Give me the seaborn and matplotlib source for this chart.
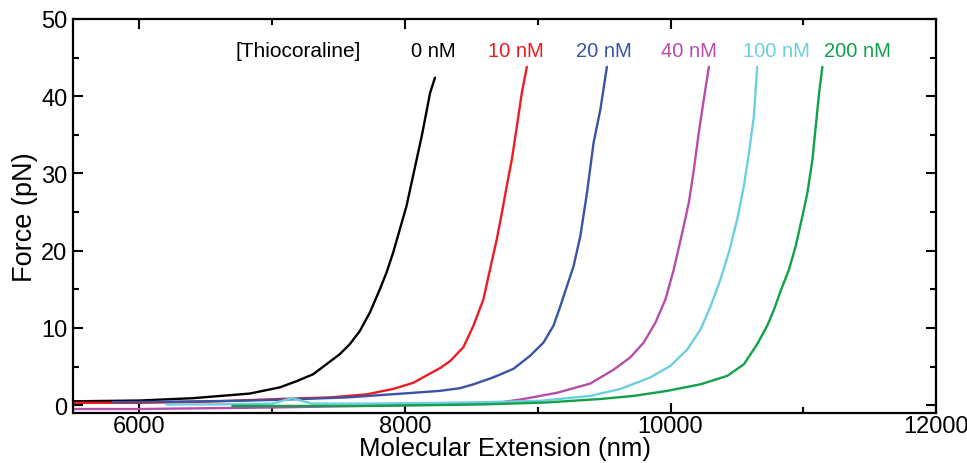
import numpy as np
import pandas as pd
import matplotlib.pyplot as plt
import seaborn as sns
from matplotlib.ticker import MultipleLocator

# values (extension in nm, force in pN)
ext_0 = [5500, 6000, 6400, 6830, 7057, 7183, 7308, 7409, 7509, 7585, 7660, 7736, 7811, 7862,
         7912, 7962, 8012, 8050, 8088, 8126, 8151, 8189, 8226]
force_0 = [0.5, 0.6, 0.9, 1.5, 2.3, 3.1, 4.0, 5.3, 6.6, 7.9, 9.6, 12.0, 15.0, 17.2,
           19.8, 22.8, 25.8, 28.8, 31.8, 34.8, 37.0, 40.4, 42.4]

ext_10 = [5500, 6000, 6500, 7057, 7434, 7711, 7912, 8063, 8264, 8340, 8440, 8516, 8591, 8641,
          8692, 8730, 8767, 8805, 8843, 8880, 8918]
force_10 = [0.3, 0.3, 0.45, 0.8, 1.0, 1.4, 2.1, 2.9, 4.8, 5.7, 7.5, 10.3, 13.7, 17.6,
            21.5, 24.9, 28.4, 31.8, 36.1, 40.4, 43.8]

ext_20 = [5800, 6200, 6700, 7057, 7560, 8063, 8264, 8415, 8516, 8666, 8817, 8943, 9043, 9119,
          9170, 9220, 9270, 9321, 9371, 9421, 9472, 9521]
force_20 = [0.4, 0.45, 0.55, 0.7, 1.0, 1.6, 1.85, 2.2, 2.7, 3.6, 4.7, 6.4, 8.1, 10.3,
            12.8, 15.4, 18.0, 21.9, 27.5, 34.0, 38.3, 43.8]

ext_40 = [5500, 6000, 6500, 7000, 7500, 8000, 8400, 8717, 8893, 9145, 9396, 9572, 9698, 9798,
          9887, 9962, 10025, 10088, 10138, 10176, 10213, 10251, 10289]
force_40 = [-0.5, -0.5, -0.4, -0.3, -0.15, 0.0, 0.15, 0.35, 0.8, 1.6, 2.8, 4.6, 6.2, 8.1,
            10.7, 13.7, 17.6, 22.3, 26.2, 30.5, 35.3, 39.6, 43.8]

ext_100 = [6200, 6600, 7000, 7150, 7300, 7700, 8300, 8641, 9019, 9396, 9623, 9849, 10000,
           10126, 10226, 10302, 10377, 10440, 10503, 10553, 10591, 10628, 10653]
force_100 = [0.1, 0.1, 0.2, 0.9, 0.2, 0.2, 0.3, 0.4, 0.56, 1.2, 2.1, 3.6, 5.1,
             7.2, 9.8, 12.8, 16.3, 19.8, 24.1, 28.4, 32.7, 37.4, 43.8]

ext_200 = [6700, 7200, 7700, 8200, 8600, 9069, 9472, 9723, 9975, 10226, 10428, 10553, 10653,
           10729, 10780, 10830, 10893, 10943, 10994, 11031, 11069, 11094, 11119, 11144]
force_200 = [-0.1, -0.1, -0.1, 0.0, 0.1, 0.35, 0.8, 1.2, 1.85, 2.7, 3.8, 5.3, 7.9,
             10.3, 12.4, 14.8, 17.6, 20.6, 24.5, 27.5, 31.8, 36.1, 40.4, 43.8]

conc_labels = ["0 nM", "10 nM", "20 nM", "40 nM", "100 nM", "200 nM"]
colors = ["#000000", "#ED1C24", "#3A53A4", "#B64DA8", "#6CCFDF", "#12A14B"]

traces = [(ext_0, force_0), (ext_10, force_10), (ext_20, force_20),
          (ext_40, force_40), (ext_100, force_100), (ext_200, force_200)]

frames = []
for lab, (x, y) in zip(conc_labels, traces):
    frames.append(pd.DataFrame({"ext": x, "force": y, "conc": lab}))
df = pd.concat(frames, ignore_index=True)

sns.set_style("ticks")
plt.rcParams['font.family'] = ['Liberation Sans', 'DejaVu Sans']
plt.rcParams.update({'text.color': 'black', 'axes.labelcolor': 'black',
                     'axes.edgecolor': 'black', 'xtick.color': 'black',
                     'ytick.color': 'black'})

fig = plt.figure(figsize=(9.67, 4.64), dpi=100)
ax = fig.add_axes([0.0755, 0.108, 0.8925, 0.849])

sns.lineplot(data=df, x="ext", y="force", hue="conc", hue_order=conc_labels,
             palette=colors, sort=False, estimator=None, linewidth=1.7,
             legend=False, ax=ax)

ax.set_xlim(5500, 12000)
ax.set_ylim(-1, 50)
ax.xaxis.set_major_locator(MultipleLocator(2000))
ax.xaxis.set_minor_locator(MultipleLocator(1000))
ax.yaxis.set_major_locator(MultipleLocator(10))
ax.yaxis.set_minor_locator(MultipleLocator(5))
ax.tick_params(which='both', direction='in', top=True, right=True, width=1.5, labelsize=17)
ax.tick_params(axis='x', pad=1.5)
ax.tick_params(axis='y', pad=4)
ax.tick_params(which='major', length=7)
ax.tick_params(which='minor', length=4)
for s in ax.spines.values():
    s.set_linewidth(1.6)
    s.set_visible(True)

ax.set_xlabel('Molecular Extension (nm)', fontsize=18.5, labelpad=-1)
ax.set_ylabel('Force (pN)', fontsize=19.5, labelpad=2)

# concentration labels at the top
ax.text(7668, 45.95, '[Thiocoraline]', fontsize=15, ha='right', va='center')
label_x = [8210, 8838, 9500, 10136, 10800, 11411]
for lab, xx, c in zip(conc_labels, label_x, colors):
    ax.text(xx, 45.95, lab, fontsize=14.5, ha='center', va='center', color=c)

plt.savefig('out.png', dpi=100)
